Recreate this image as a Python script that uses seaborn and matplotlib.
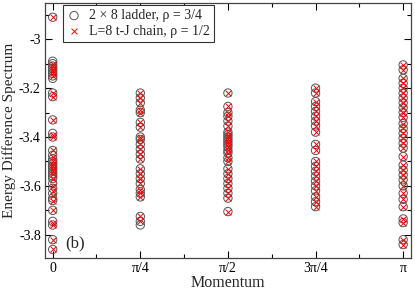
import numpy as np
import pandas as pd
import matplotlib
matplotlib.use("Agg")
import matplotlib.pyplot as plt
import seaborn as sns
from matplotlib.ticker import MultipleLocator, FuncFormatter

# --- data (energy differences per momentum) ---
momentum_ticks = [0, np.pi / 4, np.pi / 2, 3 * np.pi / 4, np.pi]
momentum_labels = ["0", "\u03c0/4", "\u03c0/2", "3\u03c0/4", "\u03c0"]

# 2 x 8 ladder, rho = 3/4
ladder_k0 = [-2.91, -3.09, -3.10, -3.11, -3.12, -3.13, -3.14, -3.15, -3.16,
             -3.22, -3.235, -3.33, -3.385, -3.40, -3.455, -3.475, -3.49,
             -3.50, -3.51, -3.52, -3.53, -3.54, -3.55, -3.56, -3.57, -3.59,
             -3.61, -3.63, -3.65, -3.66, -3.70, -3.745, -3.76, -3.82, -3.86]
ladder_pi4 = [-3.22, -3.24, -3.26, -3.29, -3.30, -3.34, -3.36, -3.40, -3.41,
              -3.43, -3.45, -3.47, -3.49, -3.53, -3.55, -3.57, -3.59, -3.615,
              -3.63, -3.645, -3.725, -3.745, -3.76]
ladder_pi2 = [-3.22, -3.275, -3.30, -3.315, -3.335, -3.355, -3.38, -3.39,
              -3.40, -3.41, -3.42, -3.43, -3.44, -3.455, -3.465, -3.485,
              -3.50, -3.53, -3.55, -3.57, -3.59, -3.61, -3.63, -3.65, -3.705]
ladder_3pi4 = [-3.20, -3.22, -3.255, -3.275, -3.295, -3.315, -3.335, -3.355,
               -3.38, -3.43, -3.455, -3.50, -3.52, -3.54, -3.56, -3.58, -3.60,
               -3.62, -3.645, -3.665, -3.685]
ladder_pi = [-3.105, -3.125, -3.16, -3.18, -3.20, -3.22, -3.24, -3.26, -3.28,
             -3.30, -3.32, -3.345, -3.365, -3.385, -3.405, -3.425, -3.445,
             -3.48, -3.515, -3.535, -3.555, -3.575, -3.60, -3.63, -3.655,
             -3.685, -3.735, -3.75, -3.82, -3.84]

# L=8 t-J chain, rho = 1/2
chain_k0 = [-2.91, -3.10, -3.11, -3.12, -3.13, -3.14, -3.15, -3.22, -3.235,
            -3.33, -3.39, -3.40, -3.455, -3.48, -3.50, -3.51, -3.52, -3.53,
            -3.54, -3.55, -3.57, -3.60, -3.62, -3.64, -3.66, -3.70, -3.75,
            -3.76, -3.82, -3.86]
chain_pi4 = [-3.22, -3.24, -3.26, -3.29, -3.30, -3.34, -3.36, -3.40, -3.41,
             -3.43, -3.45, -3.47, -3.49, -3.53, -3.55, -3.57, -3.59, -3.615,
             -3.63, -3.645, -3.725, -3.745]
chain_pi2 = [-3.22, -3.275, -3.30, -3.315, -3.335, -3.355, -3.38, -3.39,
             -3.40, -3.41, -3.42, -3.43, -3.44, -3.455, -3.465, -3.485,
             -3.50, -3.53, -3.55, -3.57, -3.59, -3.61, -3.63, -3.65, -3.705]
chain_3pi4 = [-3.20, -3.22, -3.255, -3.275, -3.295, -3.315, -3.335, -3.355,
              -3.38, -3.43, -3.455, -3.50, -3.52, -3.54, -3.56, -3.58, -3.60,
              -3.62, -3.645, -3.665, -3.685]
chain_pi = [-3.105, -3.125, -3.16, -3.18, -3.20, -3.22, -3.24, -3.26, -3.28,
            -3.30, -3.32, -3.345, -3.365, -3.385, -3.405, -3.425, -3.445,
            -3.48, -3.515, -3.535, -3.555, -3.575, -3.60, -3.63, -3.655,
            -3.685, -3.735, -3.75, -3.82, -3.84]


def to_frame(columns):
    rows = []
    for k, vals in zip(momentum_ticks, columns):
        rows += [(k, v) for v in vals]
    return pd.DataFrame(rows, columns=["k", "E"])


ladder = to_frame([ladder_k0, ladder_pi4, ladder_pi2, ladder_3pi4, ladder_pi])
chain = to_frame([chain_k0, chain_pi4, chain_pi2, chain_3pi4, chain_pi])

# --- style ---
sns.set_style("ticks")
plt.rcParams["font.family"] = ["Liberation Serif", "DejaVu Serif"]

fig = plt.figure(figsize=(4.15, 2.92), dpi=100)
ax = fig.add_axes([0.1084, 0.1164, 0.8816, 0.8723])

sns.scatterplot(data=ladder, x="k", y="E", ax=ax, marker="o", s=36,
                facecolor="none", edgecolor="#555555", linewidth=0.7,
                label="2 \u00d7 8 ladder, \u03c1 = 3/4")
sns.scatterplot(data=chain, x="k", y="E", ax=ax, marker="x", s=18,
                color="red", linewidth=0.7,
                label="L=8 t-J chain, \u03c1 = 1/2")

ax.set_xlim(-0.069, np.pi + 0.069)
ax.set_ylim(-3.895, -2.853)
ax.set_xticks(momentum_ticks)
ax.set_xticklabels(momentum_labels)
ax.xaxis.set_minor_locator(MultipleLocator(np.pi / 8))
ax.yaxis.set_major_locator(MultipleLocator(0.2))
ax.yaxis.set_minor_locator(MultipleLocator(0.1))
ax.yaxis.set_major_formatter(FuncFormatter(lambda v, p: f"{v:g}".replace("\u2212", "-")))
ax.tick_params(which="both", direction="in", top=True, right=True,
               labelsize=10, width=0.8, colors="black", pad=3)
ax.tick_params(which="major", length=5)
ax.tick_params(which="minor", length=3)
for s in ax.spines.values():
    s.set_linewidth(0.9)
    s.set_color("#444444")

ax.set_xlabel("Momentum", fontsize=11.5, labelpad=0)
ax.set_ylabel("Energy Difference Spectrum", fontsize=11, labelpad=2)
ax.text(0.055, 0.04, "(b)", transform=ax.transAxes, fontsize=12)

leg = ax.legend(loc="upper left", bbox_to_anchor=(0.049, 0.993),
                borderaxespad=0, fancybox=False, edgecolor="#333333",
                fontsize=10, handlelength=1.0, handletextpad=0.6,
                borderpad=0.3, labelspacing=0.2, framealpha=1)
leg.get_frame().set_linewidth(0.8)

fig.savefig("out.png", dpi=100)
